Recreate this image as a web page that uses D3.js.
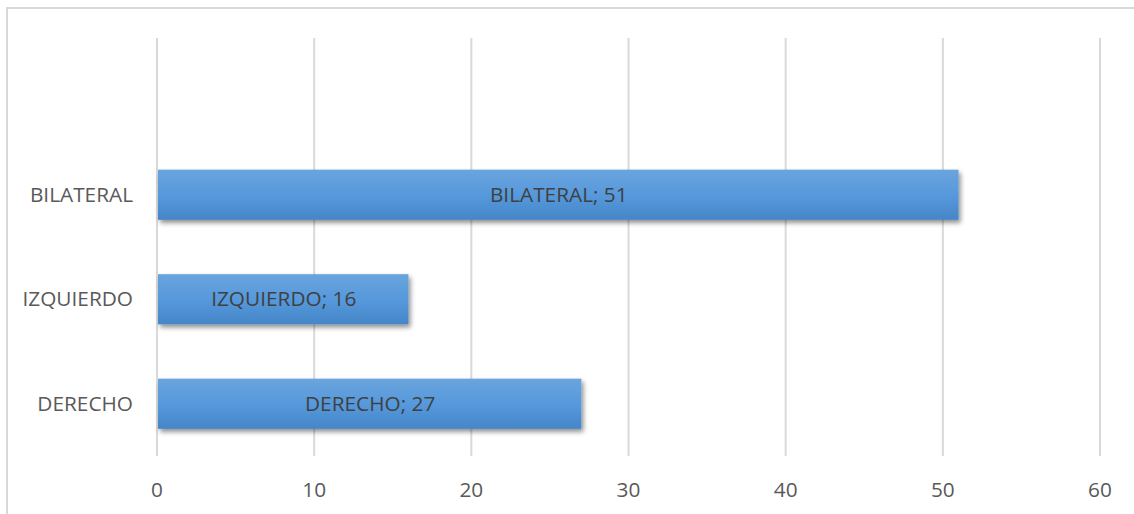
<!DOCTYPE html>
<html>
<head>
<meta charset="utf-8">
<script src="https://cdn.jsdelivr.net/npm/d3@7"></script>
<style>
  html, body { margin: 0; padding: 0; background: #fff; }
  svg { display: block; font-family: "Open Sans", "Noto Sans", sans-serif; }
</style>
</head>
<body>
<svg id="chart" width="1134" height="514"></svg>
<script>
// Categories from bottom to top, with their counts
const categories = ["DERECHO", "IZQUIERDO", "BILATERAL"];
const values = [27, 16, 51];
// An empty slot sits above the last category
const slots = ["", ...categories.slice().reverse()];
const xTicks = [0, 10, 20, 30, 40, 50, 60];

const svg = d3.select("#chart");
const W = 1134, H = 514;
const FS = 20.8;

const x = d3.scaleLinear().domain([0, 60]).range([157, 1100]);
const y = d3.scaleBand().domain(slots).range([38, 456]).paddingInner(0.52).paddingOuter(0.26);

const defs = svg.append("defs");
const grad = defs.append("linearGradient").attr("id", "barFill")
  .attr("x1", 0).attr("y1", 0).attr("x2", 0).attr("y2", 1);
grad.append("stop").attr("offset", "0%").attr("stop-color", "#6aa4dd");
grad.append("stop").attr("offset", "50%").attr("stop-color", "#5699dc");
grad.append("stop").attr("offset", "100%").attr("stop-color", "#4586c8");

const shadow = defs.append("filter").attr("id", "barShadow")
  .attr("x", "-5%").attr("y", "-20%").attr("width", "110%").attr("height", "160%");
shadow.append("feGaussianBlur").attr("in", "SourceAlpha").attr("stdDeviation", 2.5).attr("result", "b");
shadow.append("feOffset").attr("in", "b").attr("dx", 2).attr("dy", 3).attr("result", "o");
shadow.append("feComponentTransfer").attr("in", "o").attr("result", "s")
  .append("feFuncA").attr("type", "linear").attr("slope", 0.45);
const merge = shadow.append("feMerge");
merge.append("feMergeNode").attr("in", "s");
merge.append("feMergeNode").attr("in", "SourceGraphic");

// Chart frame
svg.append("rect")
  .attr("x", 7).attr("y", 8).attr("width", W + 10).attr("height", H + 10)
  .attr("fill", "none").attr("stroke", "#d9d9d9").attr("stroke-width", 2);

// Vertical gridlines
svg.append("g").selectAll("line").data(xTicks).join("line")
  .attr("x1", d => x(d)).attr("x2", d => x(d))
  .attr("y1", 38).attr("y2", 456)
  .attr("stroke", "#d9d9d9").attr("stroke-width", 2);

// X axis labels
svg.append("g").selectAll("text").data(xTicks).join("text")
  .attr("x", d => x(d)).attr("y", 497)
  .attr("text-anchor", "middle")
  .attr("font-size", FS).attr("fill", "#595959")
  .text(d => d);

// Category labels
svg.append("g").selectAll("text").data(categories).join("text")
  .attr("x", 133).attr("y", d => y(d) + y.bandwidth() / 2 + 7)
  .attr("text-anchor", "end")
  .attr("font-size", FS).attr("fill", "#595959")
  .text(d => d);

const rows = categories.map((c, i) => ({ c, v: values[i] }));

// Bars
svg.append("g").selectAll("rect").data(rows).join("rect")
  .attr("x", x(0) + 1).attr("y", d => y(d.c))
  .attr("width", d => x(d.v) - x(0) - 1).attr("height", y.bandwidth())
  .attr("fill", "url(#barFill)").attr("filter", "url(#barShadow)");

// Value labels inside bars
svg.append("g").selectAll("text").data(rows).join("text")
  .attr("x", d => (x(0) + x(d.v)) / 2 + 1).attr("y", d => y(d.c) + y.bandwidth() / 2 + 7)
  .attr("text-anchor", "middle")
  .attr("font-size", FS).attr("fill", "#404040")
  .text(d => `${d.c}; ${d.v}`);
</script>
</body>
</html>
